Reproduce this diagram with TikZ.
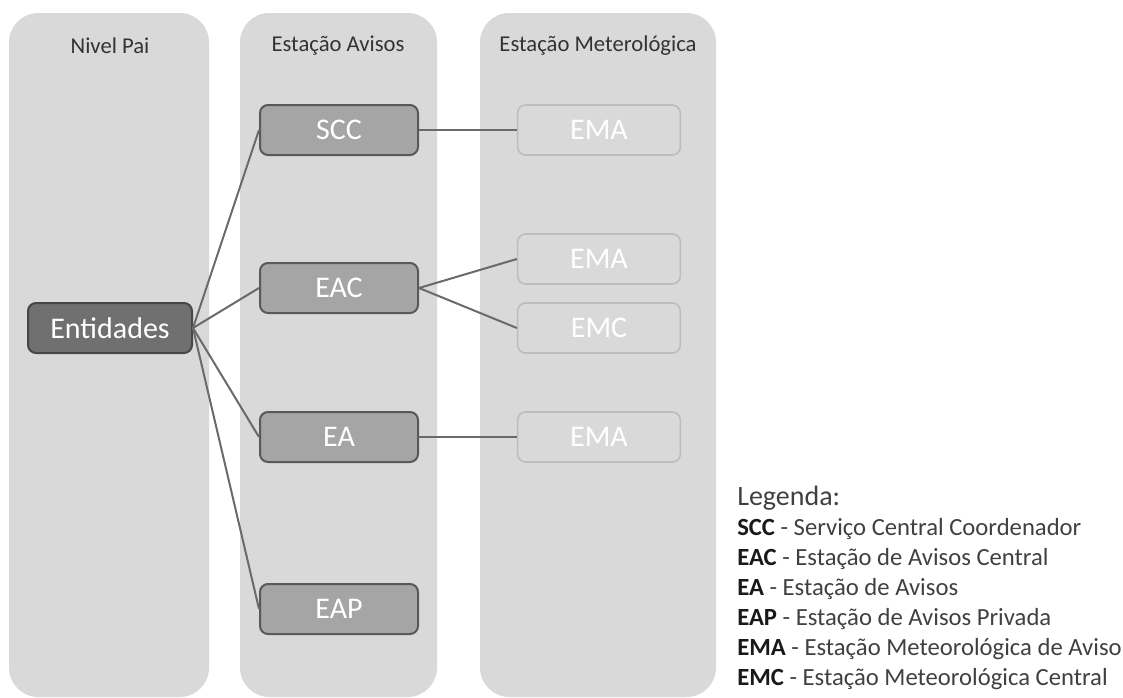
\documentclass[tikz,border=0pt]{standalone}
\usepackage{fontspec}
\setmainfont{Carlito}
\usepackage{tikz}
\usetikzlibrary{positioning}
\definecolor{lane}{HTML}{D9D9D9}
\definecolor{darkbox}{HTML}{707070}
\definecolor{darkedge}{HTML}{474747}
\definecolor{midbox}{HTML}{A5A5A5}
\definecolor{midedge}{HTML}{595959}
\definecolor{paleedge}{HTML}{BDBDBD}
\definecolor{wire}{HTML}{6A6A6A}
\definecolor{ink}{HTML}{404040}
\definecolor{headink}{HTML}{333333}
\tikzstyle{lanebox} = [fill=lane, rounded corners=22pt]
\tikzstyle{lanehead} = [text=headink, font=\fontsize{17}{20}\selectfont]
\tikzset{
  entbox/.style={rounded corners=6pt, line width=1.5pt, minimum height=37.5pt,
    inner sep=0pt, text=white, font=\fontsize{22.5}{26}\selectfont},
  parentbox/.style={entbox, draw=darkedge, fill=darkbox, minimum width=123pt},
  avisobox/.style={entbox, draw=midedge, fill=midbox, minimum width=118.5pt},
  metbox/.style={entbox, draw=paleedge, fill=lane, line width=1.2pt, minimum width=122pt},
  wireline/.style={draw=wire, line width=1.5pt},
  legtext/.style={anchor=base west, inner sep=0pt, text=ink, font=\fontsize{18.5}{22}\selectfont}
}

\begin{document}
\begin{tikzpicture}[x=0.75pt, y=-0.75pt]
\useasboundingbox (0,0) rectangle (1123,697);

% columns
\fill[lanebox] (9,13) rectangle (209,697);
\fill[lanebox] (240,13) rectangle (437,697);
\fill[lanebox] (480,13) rectangle (716,697);
\node[lanehead] (headpai) at (110,46) {Nivel Pai};
\node[lanehead] (headavisos) at (338,46) {Estação Avisos};
\node[lanehead] (headmet) at (598,46) {Estação Meterológica};

% boxes
\node[parentbox] (ent) at (110,328) {Entidades};
\node[avisobox] (scc) at (339,130) {SCC};
\node[avisobox] (eac) at (339,288) {EAC};
\node[avisobox] (ea) at (339,437) {EA};
\node[avisobox] (eap) at (339,609) {EAP};
\node[metbox] (ema1) at (599,130) {EMA};
\node[metbox] (ema2) at (599,259) {EMA};
\node[metbox] (emc) at (599,328) {EMC};
\node[metbox] (ema3) at (599,437) {EMA};

% links
\foreach \t in {scc,eac,ea,eap}
  \draw[wireline] (ent.east) -- (\t.west);
\draw[wireline] (scc.east) -- (ema1.west);
\draw[wireline] (eac.east) -- (ema2.west);
\draw[wireline] (eac.east) -- (emc.west);
\draw[wireline] (ea.east) -- (ema3.west);

% legend
\node[legtext, font=\fontsize{21}{24}\selectfont] (legtitle) at (737,505) {Legenda:};
\foreach \abbr/\desc [count=\i] in {SCC/Serviço Central Coordenador,
    EAC/Estação de Avisos Central, EA/Estação de Avisos,
    EAP/Estação de Avisos Privada, EMA/Estação Meteorológica de Aviso,
    EMC/Estação Meteorológica Central}
  \node[legtext] (leg\i) at (737,{505+30*\i}) {\textcolor{black!90}{\textbf{\abbr}} - \desc};
\end{tikzpicture}
\end{document}
